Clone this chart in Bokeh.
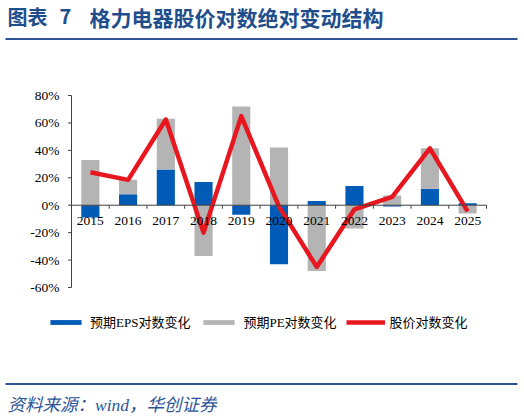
import numpy as np
from bokeh.plotting import figure
from bokeh.models import (Range1d, Legend, LegendItem, ColumnDataSource, Label,
                          BoxAnnotation)
from bokeh.core.properties import value
from bokeh.embed import file_html
from bokeh.resources import INLINE

# data (log change, %)
years = [str(y) for y in range(2015, 2026)]
eps_chg = [-9, 8, 26, 17, -7, -43, 3, 14, -1, 12, 1.5]
pe_chg = [33, 10.5, 37, -37, 72, 42, -48, -17, 7, 29.5, -6]
price_chg = [24, 18.5, 62.5, -20, 65, -1, -45, -3, 6, 41.5, -4.5]
y_ticks = [-60, -40, -20, 0, 20, 40, 60, 80]

BLUE = "#005BB7"
GREY = "#B4B4B4"
RED = "#E8161F"
NAVY = "#1F4E8C"
RULE = "#2E5496"
AXIS = "#404040"
SERIF = "'Liberation Serif', 'Noto Sans CJK SC'"

# page geometry (pixels)
W, H = 524, 418
AX_L, AX_R = 71, 486      # x extent of the category axis
Y_TOP, Y_BOT = 95, 287    # pixel rows of the top and bottom y ticks

n = len(years)
idx = np.arange(n)
cat_w = (AX_R - AX_L) / n
ppu = (Y_BOT - Y_TOP) / (y_ticks[-1] - y_ticks[0])
x_range = Range1d(-0.5 - AX_L / cat_w, -0.5 + (W - AX_L) / cat_w)
y_range = Range1d(y_ticks[0] - (H - Y_BOT) / ppu, y_ticks[-1] + Y_TOP / ppu)

# excel-style stacking: same sign stacks on top, opposite sign starts at 0
eps = np.array(eps_chg, dtype=float)
pe = np.array(pe_chg, dtype=float)
pe_bottom = np.where(np.sign(pe) == np.sign(eps), eps, 0.0)
pe_top = pe_bottom + pe

src = ColumnDataSource(dict(x=idx, year=years, eps=eps, pe_bottom=pe_bottom,
                            pe_top=pe_top, price=price_chg, zero=[0] * n))

p = figure(width=W, height=H, x_range=x_range, y_range=y_range,
           x_axis_type=None, y_axis_type=None, toolbar_location=None,
           output_backend="svg", tools="", min_border=0,
           outline_line_color=None)
p.grid.visible = False

r_eps = p.vbar(x="x", width=0.48, bottom=0, top="eps", source=src,
               fill_color=BLUE, line_color=None)
r_pe = p.vbar(x="x", width=0.48, bottom="pe_bottom", top="pe_top", source=src,
              fill_color=GREY, line_color=None)
r_line = p.line(x="x", y="price", source=src, line_color=RED, line_width=4.5,
                line_join="round")

# category axis at zero: line, boundary ticks, year labels
edges = np.arange(n + 1) - 0.5
p.segment(x0=[edges[0]], y0=[0], x1=[edges[-1]], y1=[0], line_color=AXIS, line_width=1)
p.segment(x0=edges, y0=[0] * (n + 1), x1=edges, y1=[-3.5 / ppu] * (n + 1),
          line_color=AXIS, line_width=1)
p.text(x="x", y="zero", text="year", source=src, y_offset=16,
       text_align="center", text_baseline="middle", text_font=value(SERIF),
       text_font_size="13.5px", text_color="#000000")

# value axis
ysrc = ColumnDataSource(dict(y=y_ticks, lab=["%d%%" % t for t in y_ticks],
                             x0=[edges[0]] * len(y_ticks),
                             x1=[edges[0] - 3.5 / cat_w] * len(y_ticks)))
p.segment(x0=[edges[0]], y0=[y_ticks[0]], x1=[edges[0]], y1=[y_ticks[-1]],
          line_color=AXIS, line_width=1)
p.segment(x0="x0", y0="y", x1="x1", y1="y", source=ysrc, line_color=AXIS, line_width=1)
p.text(x="x0", y="y", text="lab", source=ysrc, x_offset=-12, text_align="right",
       text_baseline="middle", text_font=value(SERIF), text_font_size="13.5px",
       text_color="#000000")

legend = Legend(items=[LegendItem(label="预期EPS对数变化", renderers=[r_eps]),
                       LegendItem(label="预期PE对数变化", renderers=[r_pe]),
                       LegendItem(label="股价对数变化", renderers=[r_line])],
                orientation="horizontal", location=(46, 87),
                glyph_width=39, glyph_height=6, label_standoff=5, spacing=9,
                margin=0, padding=0, border_line_color=None, background_fill_alpha=0,
                label_text_font=SERIF, label_text_font_size="13px",
                label_text_color="#000000")
p.add_layout(legend)

# header and footer
head = dict(x_units="screen", y_units="screen", y=H - 16, text_baseline="middle",
            text_font="Noto Sans CJK SC", text_font_size="20px",
            text_font_style="bold", text_color=NAVY)
p.add_layout(Label(x=7, text="图表", **head))
p.add_layout(Label(x=59, text="7", **head))
p.add_layout(Label(x=89, text="格力电器股价对数绝对变动结构",
                   **dict(head, text_font_size="21px")))
p.add_layout(BoxAnnotation(left=5, right=517, bottom=H - 39.5, top=H - 37.5,
                           left_units="screen", right_units="screen",
                           top_units="screen", bottom_units="screen",
                           fill_color=RULE, fill_alpha=1, line_color=None))
p.add_layout(BoxAnnotation(left=5, right=517, bottom=H - 384.5, top=H - 382.5,
                           left_units="screen", right_units="screen",
                           top_units="screen", bottom_units="screen",
                           fill_color=RULE, fill_alpha=1, line_color=None))
p.add_layout(Label(x=7, y=H - 404, x_units="screen", y_units="screen",
                   text="资料来源：wind，华创证券", text_baseline="middle",
                   text_font=SERIF, text_font_size="17.5px",
                   text_font_style="italic", text_color=RULE))

open("out.html", "w").write(file_html(p, INLINE))
